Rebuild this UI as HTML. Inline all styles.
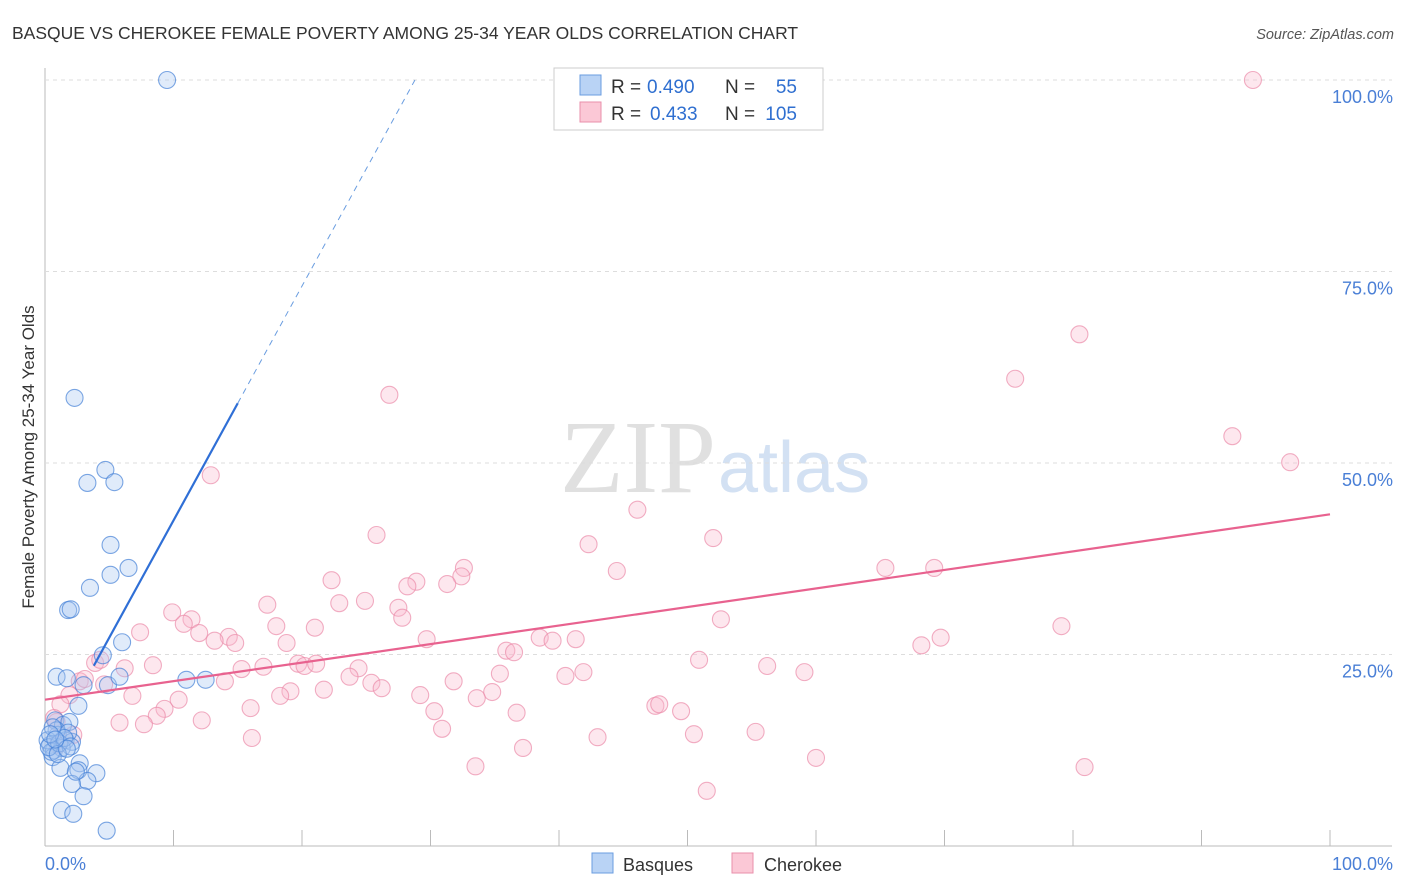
<!DOCTYPE html>
<html><head><meta charset="utf-8"><style>
body{margin:0;background:#fff;font-family:"Liberation Sans",sans-serif}
svg{display:block}
</style></head><body>
<svg id="c" width="1406" height="892">
<text x="12" y="39" font-size="17.5" fill="#333">BASQUE VS CHEROKEE FEMALE POVERTY AMONG 25-34 YEAR OLDS CORRELATION CHART</text>
<text x="1394" y="39" font-size="14.5" fill="#555" font-style="italic" text-anchor="end">Source: ZipAtlas.com</text>
<text x="34" y="457" font-size="17" fill="#333" text-anchor="middle" transform="rotate(-90 34 457)">Female Poverty Among 25-34 Year Olds</text>
<text x="716" y="492" font-size="104" fill="#e0e0e0" font-family="Liberation Serif,serif" text-anchor="end">ZIP</text>
<text x="718" y="492" font-size="72" fill="#d3e1f3" text-anchor="start">atlas</text>
<g id="grid"></g><g id="pts"></g><g id="lines"></g>
<g>
<rect x="554" y="68" width="269" height="62" fill="#fff" stroke="#ccc"/>
<rect x="580" y="75" width="21" height="20" fill="#b9d3f5" stroke="#6a9de0"/>
<rect x="580" y="102" width="21" height="20" fill="#fbc8d6" stroke="#ea8fab"/>
<text x="611" y="93" font-size="19" fill="#333">R =</text>
<text x="647" y="93" font-size="19" fill="#2f6fd0">0.490</text>
<text x="725" y="93" font-size="19" fill="#333">N =</text>
<text x="797" y="93" font-size="19" fill="#2f6fd0" text-anchor="end">55</text>
<text x="611" y="120" font-size="19" fill="#333">R =</text>
<text x="650" y="120" font-size="19" fill="#2f6fd0">0.433</text>
<text x="725" y="120" font-size="19" fill="#333">N =</text>
<text x="797" y="120" font-size="19" fill="#2f6fd0" text-anchor="end">105</text>
</g>
<g>
<rect x="592" y="853" width="21" height="20" fill="#b9d3f5" stroke="#6a9de0"/>
<text x="623" y="871" font-size="18" fill="#333">Basques</text>
<rect x="732" y="853" width="21" height="20" fill="#fbc8d6" stroke="#ea8fab"/>
<text x="764" y="871" font-size="18" fill="#333">Cherokee</text>
</g>
</svg>
<script>
const basqueX=[9.5,2.3,3.3,4.7,5.4,5.1,5.1,6.5,3.5,1.8,2.0,6.0,4.5,0.9,1.7,3.0,4.9,5.8,11.0,12.5,2.6,0.8,1.4,1.9,1.0,1.6,2.1,0.4,0.7,1.3,0.9,1.8,0.6,1.2,2.7,2.6,4.0,3.3,2.1,3.0,1.3,2.2,4.8,2.4,0.2,0.5,0.3,1.1,1.5,0.6,2.0,1.0,0.4,1.7,0.8];
const basqueY=[100,58.5,47.4,49.1,47.5,39.3,35.4,36.3,33.7,30.8,30.9,26.6,24.9,22.1,21.9,21.0,21.0,22.1,21.7,21.7,18.3,16.4,15.8,16.2,14.5,13.8,13.6,13.2,12.5,12.8,15.1,14.8,11.6,10.2,10.8,9.9,9.5,8.5,8.1,6.5,4.7,4.2,2.0,9.7,13.8,12.3,12.9,13.4,14.1,15.5,13.0,12.0,14.6,12.7,13.9];
const cherX=[94.0,80.5,75.5,92.4,96.9,26.8,12.9,46.1,25.8,42.3,52.0,44.5,65.4,69.2,32.6,32.4,31.3,28.9,28.2,22.3,24.9,22.9,17.3,27.5,27.8,9.9,11.4,10.8,18.0,21.0,7.4,12.0,14.3,14.8,13.2,18.8,29.7,38.5,39.5,41.3,52.6,69.7,68.2,79.1,35.9,36.5,19.7,20.2,21.1,17.0,15.3,8.4,6.2,3.9,4.3,24.4,23.7,35.4,40.5,41.9,50.9,56.2,59.1,31.8,25.4,26.2,21.7,19.1,18.3,29.2,34.8,33.6,14.0,10.4,6.8,1.9,2.7,3.1,4.6,1.2,9.3,8.7,16.0,30.3,36.7,47.5,47.8,49.5,7.7,5.8,12.2,0.9,30.9,43.0,50.5,55.3,16.1,37.2,33.5,60.0,80.9,51.5,0.7,1.0,2.2];
const cherY=[100,66.8,61.0,53.5,50.1,58.9,48.4,43.9,40.6,39.4,40.2,35.9,36.3,36.3,36.3,35.2,34.2,34.5,33.9,34.7,32.0,31.7,31.5,31.1,29.8,30.5,29.6,29.0,28.7,28.5,27.9,27.8,27.3,26.5,26.8,26.5,27.0,27.2,26.8,27.0,29.6,27.2,26.2,28.7,25.5,25.3,23.8,23.5,23.8,23.4,23.1,23.6,23.2,23.9,24.3,23.2,22.1,22.5,22.2,22.7,24.3,23.5,22.7,21.5,21.3,20.6,20.4,20.2,19.6,19.7,20.1,19.3,21.5,19.1,19.6,19.7,21.5,21.8,21.1,18.5,17.9,17.0,18.0,17.6,17.4,18.3,18.5,17.6,15.9,16.1,16.4,16.2,15.3,14.2,14.6,14.9,14.1,12.8,10.4,11.5,10.3,7.2,16.7,13.2,14.5];
const yTicks=[25,50,75,100];
const yTickLabels=["25.0%","50.0%","75.0%","100.0%"];
const basqueLine=[11.9,3.06]; // intercept, slope
const cherLine=[19.1,0.242];
const X0=45,X1=1330,Y0=846,Y1=80;
const sx=v=>X0+(X1-X0)*v/100, sy=v=>Y0-(Y0-Y1)*v/100;
const NS="http://www.w3.org/2000/svg";
function mk(t,a,p){const e=document.createElementNS(NS,t);for(const k in a)e.setAttribute(k,a[k]);p.appendChild(e);return e;}
const g=document.getElementById('grid');
mk('line',{x1:45,y1:68,x2:45,y2:846,stroke:'#bbb'},g);
mk('line',{x1:45,y1:846,x2:1392,y2:846,stroke:'#bbb'},g);
for(let i=1;i<=10;i++){const l=mk('line',{x1:sx(i*10),y1:846,x2:sx(i*10),y2:830,stroke:'#bbb'},g);

}
yTicks.forEach((v,i)=>{const l=mk('line',{x1:45,y1:sy(v),x2:1392,y2:sy(v),stroke:'#ddd','stroke-dasharray':'4,4'},g);


const t=mk('text',{x:1393,y:sy(v)+23,'font-size':18,fill:'#4a7fd6','text-anchor':'end'},g);t.textContent=yTickLabels[i];

});
const t0=mk('text',{x:45,y:870,'font-size':18,fill:'#4a7fd6'},g);t0.textContent='0.0%';


const t1=mk('text',{x:1393,y:870,'font-size':18,fill:'#4a7fd6','text-anchor':'end'},g);t1.textContent='100.0%';


const p=document.getElementById('pts');
cherX.forEach((x,i)=>{const c=mk('circle',{cx:sx(x),cy:sy(cherY[i]),r:8.5,fill:'rgba(248,185,205,0.35)',stroke:'rgba(235,140,170,0.7)','stroke-width':1.1},p);

});
basqueX.forEach((x,i)=>{const c=mk('circle',{cx:sx(x),cy:sy(basqueY[i]),r:8.5,fill:'rgba(165,198,240,0.35)',stroke:'rgba(70,130,215,0.7)','stroke-width':1.1},p);

});
const L=document.getElementById('lines');
const cl=mk('line',{x1:sx(0),y1:sy(cherLine[0]),x2:sx(100),y2:sy(cherLine[0]+cherLine[1]*100),stroke:'#e8628f','stroke-width':2.2},L);


const bf=x=>basqueLine[0]+basqueLine[1]*x;
const bl=mk('line',{x1:sx(3.8),y1:sy(bf(3.8)),x2:sx(15),y2:sy(bf(15)),stroke:'#2f6fd6','stroke-width':2.2},L);


const xe=(100-basqueLine[0])/basqueLine[1];
const bd=mk('line',{x1:sx(15),y1:sy(bf(15)),x2:sx(xe),y2:sy(100),stroke:'#6a9de0','stroke-width':1,'stroke-dasharray':'6,5'},L);


</script>
</body></html>
